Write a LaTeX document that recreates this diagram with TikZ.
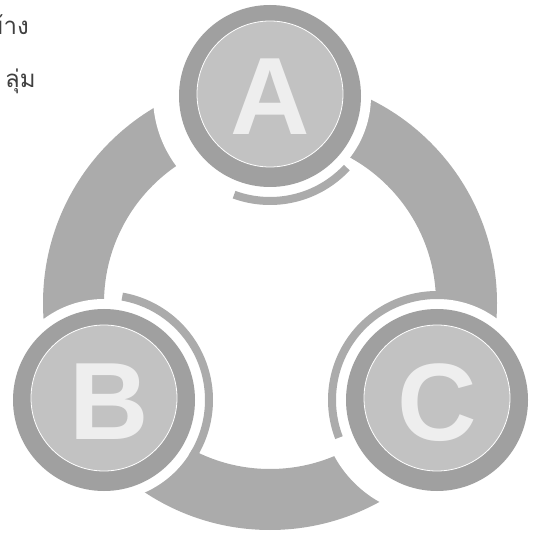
\documentclass[tikz,border=0pt]{standalone}
\usepackage{fontspec}
\setmainfont{Liberation Sans}
\newfontfamily\thaifont[Script=Thai]{Loma}
\definecolor{anel}{RGB}{171,171,171}
\definecolor{discoext}{RGB}{160,160,160}
\definecolor{discoint}{RGB}{194,194,194}
\definecolor{letra}{RGB}{238,238,238}
\definecolor{borda}{RGB}{150,150,150}
\begin{document}
\begin{tikzpicture}[x=1pt, y=-1pt,
  externo/.style={circle, fill=discoext, minimum size=182pt, inner sep=0pt},
  interno/.style={circle, fill=discoint, draw=white, line width=0.8pt, minimum size=146pt, inner sep=0pt},
  letra/.style={inner sep=0pt, font=\fontsize{110}{110}\selectfont\bfseries, text=letra}]
\useasboundingbox (0,0) rectangle (535,534);
% texto
\node[anchor=base west, inner sep=0pt, font=\thaifont\fontsize{24}{24}\selectfont, text=black!75] (t1) at (-13,35) {ข้าง};
\node[anchor=base west, inner sep=0pt, font=\thaifont\fontsize{24}{24}\selectfont, text=black!75] (t2) at (5,88) {ลุ่ม};
% anel
\fill[anel, even odd rule] (270,303) circle (227) (270,303) circle (166);
\coordinate (a) at (270,96);
\coordinate (b) at (104,400);
\coordinate (c) at (437,400);
\foreach \p in {a,b,c}
  \fill[white] (\p) circle (101);
% cortes
\foreach \p/\s/\e in {a/-140/-250, c/-203/-252}
  \fill[white] ([shift={(\s:100)}]\p) arc[start angle=\s, end angle=\e, radius=100]
    -- ([shift={(\e:117)}]\p) arc[start angle=\e, end angle=\s, radius=117] -- cycle;
% arcos finos
\foreach \p/\s/\e in {a/-250/-317, b/33/-80, c/-86/-201}
  \fill[anel] ([shift={(\s:101)}]\p) arc[start angle=\s, end angle=\e, radius=101]
    -- ([shift={(\e:109)}]\p) arc[start angle=\e, end angle=\s, radius=109] -- cycle;
% circulos
\node[externo] (da) at (a) {};
\node[externo] (db) at (b) {};
\node[externo] (dc) at (c) {};
\node[interno] (ia) at ([yshift=2]a) {};
\node[interno] (ib) at ([yshift=2]b) {};
\node[interno] (ic) at ([yshift=2]c) {};
% letras
\node[letra] (la) at (270,97) {A};
\node[letra] (lb) at (109,402) {B};
\node[letra] (lc) at (437,403) {C};
\end{tikzpicture}
\end{document}
